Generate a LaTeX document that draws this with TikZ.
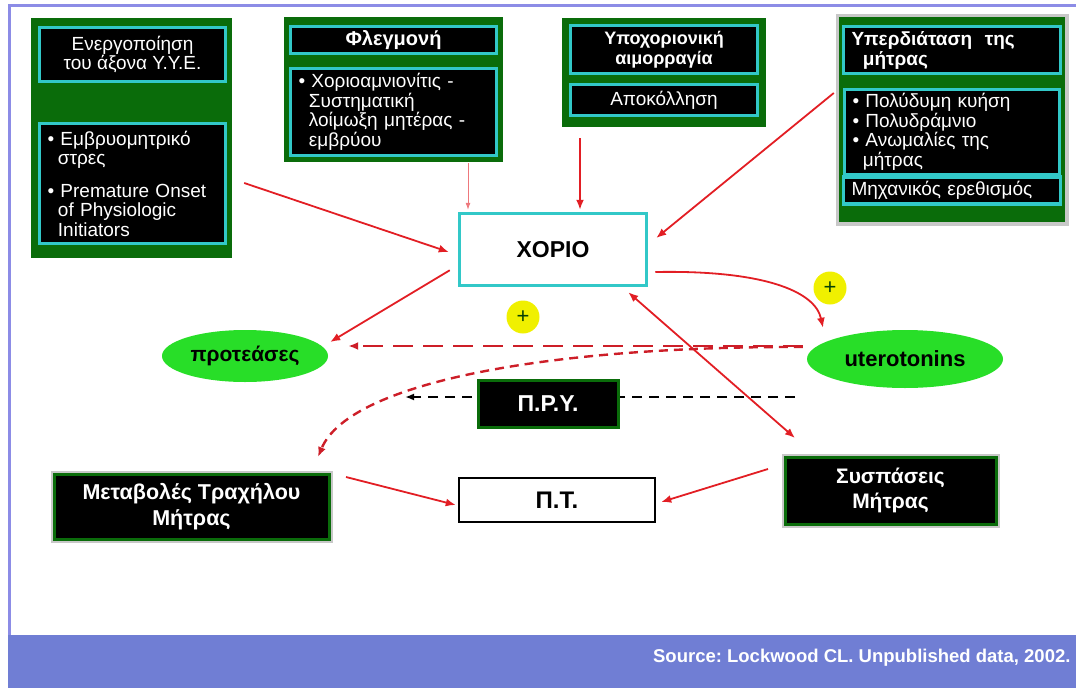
\documentclass[tikz,border=0pt]{standalone}
\usepackage{fontspec}
\setmainfont{Liberation Sans}
\usetikzlibrary{shapes.geometric,arrows.meta,calc}

\definecolor{PanelGreen}{RGB}{10,108,10}
\definecolor{BoxCyan}{RGB}{50,200,200}
\definecolor{BlobGreen}{RGB}{40,222,40}
\definecolor{PlusYellow}{RGB}{240,240,0}
\definecolor{ArrowRed}{RGB}{226,30,36}
\definecolor{DashRed}{RGB}{205,30,40}
\definecolor{FrameLilac}{RGB}{140,140,230}
\definecolor{BandBlue}{RGB}{112,126,212}
\definecolor{ShadowGray}{RGB}{200,200,200}

\begin{document}
\frenchspacing
\begin{tikzpicture}[x=1pt,y=-1pt,
  panel/.style={fill=PanelGreen,inner sep=0pt},
  grayrim/.style={preaction={draw=ShadowGray,line width=7pt}},
  cyanbox/.style={fill=black,draw=BoxCyan,line width=3.5pt,text=white,
    inner xsep=8pt,inner ysep=2pt,font=\fontsize{19}{19.5}\selectfont},
  darkbox/.style={fill=black,draw=PanelGreen,line width=3pt,text=white,
    inner sep=2pt,align=center},
  blob/.style={ellipse,fill=BlobGreen,inner sep=0pt,
    font=\bfseries\fontsize{21}{21}\selectfont},
  plusmark/.style={circle,fill=PlusYellow,minimum size=33pt,inner sep=0pt,
    text=PanelGreen!60!black,font=\fontsize{22}{22}\selectfont},
  redarrow/.style={draw=ArrowRed,line width=1.8pt,-{Latex[length=10pt,width=8pt]}},
  thinred/.style={draw=ArrowRed!60,line width=0.8pt,-{Latex[length=7pt,width=5pt]}},
  longdash/.style={draw=DashRed,line width=2.4pt,dash pattern=on 20pt off 10pt,
    -{Latex[length=10pt,width=8pt]}},
  shortdash/.style={draw=DashRed,line width=2.4pt,dash pattern=on 9pt off 6pt,
    -{Latex[length=10pt,width=8pt]}},
  blackdash/.style={draw=black,line width=2.2pt,dash pattern=on 10pt off 7pt,
    -{Latex[length=9pt,width=7pt]}}]
  \useasboundingbox (0,0) rectangle (1076,688);

  % slide frame and footer
  \fill[BandBlue] (8,635) rectangle (1076,688);
  \draw[FrameLilac,line width=3pt] (9,635) -- (9,5) -- (1076,5);
  \node[anchor=east,text=white,font=\bfseries\fontsize{18.5}{18.5}\selectfont] (source)
    at (1074,658) {Source: Lockwood CL. Unpublished data, 2002.};

  % upper panels
  \node[panel,minimum width=201pt,minimum height=240pt] (hpapanel) at (131.5,138) {};
  \node[cyanbox,minimum width=186pt,minimum height=54pt,align=center] (hpabox)
    at (132.5,54.5) {Ενεργοποίηση\\του άξονα Υ.Υ.Ε.};
  \node[cyanbox,minimum width=186pt,minimum height=120pt,text width=170pt,align=left] (stressbox)
    at (132.5,183.5) {• Εμβρυομητρικό\\\hspace*{0.55em}στρες\\[13pt]• Premature Onset\\\hspace*{0.55em}of Physiologic\\\hspace*{0.55em}Initiators};

  \node[panel,minimum width=219pt,minimum height=145pt] (flegmpanel) at (393.5,89.5) {};
  \node[cyanbox,minimum width=206pt,minimum height=27pt,font=\bfseries\fontsize{20}{20}\selectfont] (flegmtitle)
    at (393.5,40) {Φλεγμονή};
  \node[cyanbox,minimum width=206pt,minimum height=87pt,text width=190pt,align=left] (flegmbox)
    at (393.5,112) {• Χοριοαμνιονίτις -\\\hspace*{0.55em}Συστηματική\\\hspace*{0.55em}λοίμωξη μητέρας -\\\hspace*{0.55em}εμβρύου};

  \node[panel,minimum width=204pt,minimum height=109pt] (hypopanel) at (664,72.5) {};
  \node[cyanbox,minimum width=187pt,minimum height=48pt,align=center,font=\bfseries\fontsize{18}{20}\selectfont] (hypotitle)
    at (664,49.5) {Υποχοριονική\\αιμορραγία};
  \node[cyanbox,minimum width=187pt,minimum height=31pt] (hypobox) at (664,100) {Αποκόλληση};

  \node[panel,grayrim,minimum width=226pt,minimum height=205pt] (hyperpanel) at (952,119.5) {};
  \node[cyanbox,minimum width=215pt,minimum height=47pt,text width=201pt,align=left,font=\bfseries\fontsize{19}{20}\selectfont] (hypertitle)
    at (952,50) {Υπερδιάταση \ της\\\hspace*{0.6em}μήτρας};
  \node[cyanbox,minimum width=215pt,minimum height=85pt,text width=199pt,align=left] (hyperbox)
    at (952,132) {• Πολύδυμη κυήση\\• Πολυδράμνιο\\• Ανωμαλίες της\\\hspace*{0.55em}μήτρας};
  \node[cyanbox,minimum width=215pt,minimum height=27pt,text width=201pt,align=left] (mechbox)
    at (952,190.5) {Μηχανικός ερεθισμός};

  % centre and lower row
  \node[draw=BoxCyan,fill=white,line width=3.5pt,minimum width=187pt,minimum height=72pt,
    font=\bfseries\fontsize{23}{23}\selectfont] (chorio) at (553,249.5) {ΧΟΡΙΟ};
  \node[plusmark] (plusleft) at (523,317) {+};
  \node[plusmark] (plusright) at (830,288) {+};
  \node[blob,minimum width=166pt,minimum height=52pt] (proteases) at (245,356) {προτεάσες};
  \node[blob,minimum width=196pt,minimum height=58pt,font=\bfseries\fontsize{22}{22}\selectfont] (uterotonins)
    at (905,359) {uterotonins};

  \coordinate (pryright) at (795,397);
  \coordinate (pryleft) at (405,397);
  \draw[blackdash] (pryright) -- (pryleft);
  \node[darkbox,minimum width=140pt,minimum height=47pt,font=\bfseries\fontsize{23}{23}\selectfont] (pry)
    at (548,403.5) {Π.Ρ.Υ.};
  \node[draw=black,fill=white,line width=2.5pt,minimum width=196pt,minimum height=44pt,
    font=\bfseries\fontsize{24}{24}\selectfont] (pt) at (557,500) {Π.Τ.};
  \node[darkbox,grayrim,minimum width=275pt,minimum height=65pt,font=\bfseries\fontsize{21.5}{26}\selectfont] (metaboles)
    at (191.5,506.5) {Μεταβολές Τραχήλου\\Μήτρας};
  \node[darkbox,grayrim,minimum width=211pt,minimum height=67pt,font=\bfseries\fontsize{21}{25}\selectfont] (systoles)
    at (890.5,490.5) {Συσπάσεις\\Μήτρας};

  % connectors
  \draw[redarrow] ($(hpapanel.east)+(12,45)$) -- ($(chorio.west)+(-9,2.5)$);
  \draw[thinred] ($(flegmpanel.south)+(74.5,1)$) -- ($(chorio.north)+(-85,-2)$);
  \draw[redarrow] ($(hypopanel.south)+(-84,11)$) -- ($(chorio.north)+(27,-2)$);
  \draw[redarrow] ($(hyperpanel.west)+(-5,-26.5)$) -- ($(chorio.east)+(8,-11.5)$);
  \draw[redarrow] ($(chorio.south west)+(-8,-17)$) -- ($(proteases.east)+(2,-14)$);
  \draw[redarrow] ($(chorio.east)+(7,22.5)$) .. controls (760,270) and (815,290) .. ($(uterotonins.north)+(-82,-2)$);
  \draw[redarrow,{Latex[length=10pt,width=8pt]}-{Latex[length=10pt,width=8pt]}]
    ($(chorio.south east)+(-20,5)$) -- ($(systoles.north west)+(11.5,-17.5)$);
  \draw[longdash] ($(uterotonins.west)+(-4,-13)$) -- ($(proteases.east)+(20,-10)$);
  \draw[shortdash] ($(uterotonins.west)+(-4,-12)$) .. controls (560,346) and (350,380) .. ($(metaboles.north east)+(-12.5,-15.5)$);
  \draw[redarrow] ($(metaboles.east)+(15.5,-29.5)$) -- ($(pt.west)+(-2,5)$);
  \draw[redarrow] ($(systoles.west)+(-15.5,-21.5)$) -- ($(pt.east)+(5,2)$);
\end{tikzpicture}
\end{document}
